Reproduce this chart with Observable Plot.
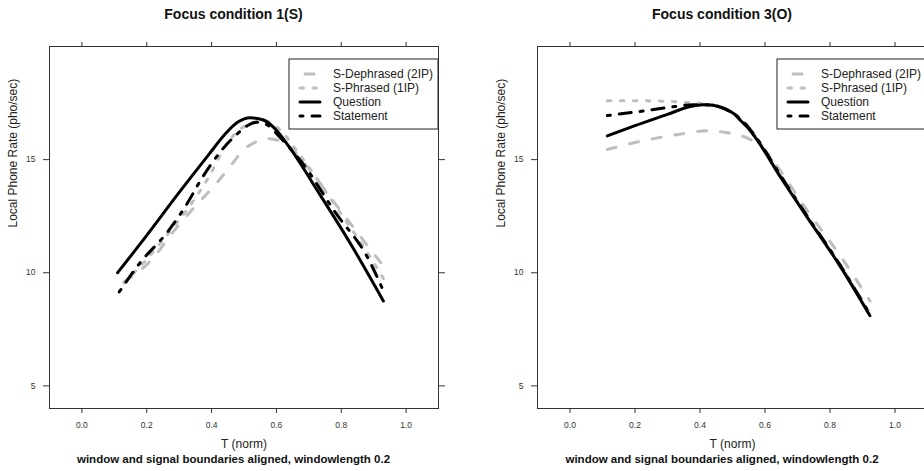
<!DOCTYPE html>
<html>
<head>
<meta charset="utf-8">
<script src="https://cdn.jsdelivr.net/npm/d3@7"></script>
<script src="https://cdn.jsdelivr.net/npm/@observablehq/plot@0.6"></script>
<style>
  html, body { margin: 0; padding: 0; background: #fff; overflow: hidden; }
  #wrap { position: relative; width: 924px; height: 471px; overflow: hidden; background: #fff; }
  .panel { position: absolute; top: 0; }
  .panel svg { max-width: none !important; }
</style>
</head>
<body>
<div id="wrap"></div>
<script>
// ---------- tick labels / text ----------
const tickX = [0, 0.2, 0.4, 0.6, 0.8, 1.0];
const tickY = [5, 10, 15];
const seriesNames = ["S-Dephrased (2IP)", "S-Phrased (1IP)", "Question", "Statement"];
const panelTitles = ["Focus condition 1(S)", "Focus condition 3(O)"];
const xLabel = "T (norm)";
const yLabel = "Local Phone Rate (pho/sec)";
const caption = "window and signal boundaries aligned, windowlength 0.2";

// ---------- Focus condition 1(S) ----------
const c1DephrasedT    = [0.13, 0.21, 0.284, 0.35, 0.412, 0.46, 0.5, 0.54, 0.576, 0.628, 0.7, 0.771, 0.843, 0.93];
const c1DephrasedRate = [9.6, 10.5, 11.85, 12.95, 13.9, 14.75, 15.45, 15.8, 15.92, 15.7, 14.6, 13.25, 11.9, 10.3];
const c1PhrasedT      = [0.13, 0.2, 0.27, 0.33, 0.39, 0.443, 0.48, 0.52, 0.56, 0.6, 0.68, 0.78, 0.88, 0.93];
const c1PhrasedRate   = [9.55, 10.6, 11.8, 12.9, 14.2, 15.6, 16.25, 16.6, 16.72, 16.45, 15.05, 13.0, 10.9, 9.75];
const c1QuestionT     = [0.11, 0.2, 0.3, 0.39, 0.44, 0.48, 0.52, 0.56, 0.6, 0.64, 0.73, 0.83, 0.93];
const c1QuestionRate  = [10.0, 11.65, 13.55, 15.2, 16.1, 16.65, 16.85, 16.75, 16.3, 15.55, 13.55, 11.25, 8.75];
const c1StatementT    = [0.115, 0.18, 0.264, 0.32, 0.371, 0.433, 0.484, 0.51, 0.54, 0.57, 0.61, 0.68, 0.78, 0.884, 0.93];
const c1StatementRate = [9.15, 10.45, 11.8, 12.95, 14.2, 15.45, 16.2, 16.5, 16.65, 16.55, 16.0, 14.85, 12.7, 10.6, 9.2];

// ---------- Focus condition 3(O) ----------
const c3DephrasedT    = [0.115, 0.23, 0.35, 0.42, 0.48, 0.546, 0.577, 0.62, 0.65, 0.73, 0.833, 0.923];
const c3DephrasedRate = [15.45, 15.85, 16.15, 16.28, 16.2, 15.95, 15.7, 15.05, 14.45, 12.75, 10.72, 8.75];
const c3PhrasedT      = [0.115, 0.2, 0.3, 0.38, 0.43, 0.47, 0.505, 0.546, 0.577, 0.648, 0.73, 0.833, 0.923];
const c3PhrasedRate   = [17.6, 17.6, 17.58, 17.5, 17.45, 17.3, 17.05, 16.5, 15.9, 14.3, 12.5, 10.32, 8.2];
const c3QuestionT     = [0.115, 0.2, 0.3, 0.37, 0.41, 0.44, 0.475, 0.505, 0.525, 0.546, 0.577, 0.648, 0.73, 0.833, 0.923];
const c3QuestionRate  = [16.05, 16.5, 17.0, 17.35, 17.43, 17.4, 17.25, 17.02, 16.73, 16.43, 15.84, 14.22, 12.45, 10.25, 8.1];
const c3StatementT    = [0.115, 0.2, 0.3, 0.38, 0.42, 0.45, 0.48, 0.505, 0.525, 0.546, 0.577, 0.648, 0.73, 0.833, 0.923];
const c3StatementRate = [16.95, 17.1, 17.3, 17.43, 17.43, 17.38, 17.22, 17.02, 16.78, 16.48, 15.9, 14.3, 12.5, 10.3, 8.15];

// ---------- styles ----------
const seriesStyles = [
  {stroke: "#bebebe", dash: "9,14"},        // dashed
  {stroke: "#bebebe", dash: "3.5,9.5"},     // dotted
  {stroke: "#000000", dash: null},          // solid
  {stroke: "#000000", dash: "3,9,12,9"}     // dot-dash
];
const FONT = "'Liberation Sans', Arial, Helvetica, sans-serif";

function toRows(ts, vs) { return ts.map((t, i) => ({t, rate: vs[i]})); }

const panels = [
  {title: panelTitles[0], left: 0, width: 462, marginLeft: 49, marginRight: 24,
   series: [toRows(c1DephrasedT, c1DephrasedRate), toRows(c1PhrasedT, c1PhrasedRate),
            toRows(c1QuestionT, c1QuestionRate), toRows(c1StatementT, c1StatementRate)]},
  {title: panelTitles[1], left: 462, width: 470, marginLeft: 75, marginRight: 5,
   series: [toRows(c3DephrasedT, c3DephrasedRate), toRows(c3PhrasedT, c3PhrasedRate),
            toRows(c3QuestionT, c3QuestionRate), toRows(c3StatementT, c3StatementRate)]}
];

const H = 471, MT = 46, MB = 63;

function addLegend(svg, frameLeft, frameRight) {
  const g = d3.select(svg).append("g").attr("text-anchor", "start");
  const x0 = frameLeft + 240, x1 = frameRight, y0 = 59, y1 = 129;
  g.append("rect").attr("x", x0).attr("y", y0).attr("width", x1 - x0).attr("height", y1 - y0)
    .attr("fill", "#fff").attr("stroke", "#222").attr("stroke-width", 1);
  const offsets = [-5, 0, 0, 0];
  seriesNames.forEach((name, i) => {
    const y = 74 + i * 14;
    const st = seriesStyles[i];
    const ln = g.append("line").attr("x1", x0 + 11).attr("x2", x0 + 31).attr("y1", y).attr("y2", y)
      .attr("stroke", st.stroke).attr("stroke-width", 3).attr("stroke-linecap", "round");
    if (st.dash) ln.attr("stroke-dasharray", st.dash).attr("stroke-dashoffset", offsets[i]);
    g.append("text").attr("x", x0 + 44).attr("y", y).attr("dy", "0.35em")
      .attr("text-anchor", "start")
      .attr("font-family", FONT).attr("font-size", 12).attr("fill", "#222").text(name);
  });
}

const wrap = document.getElementById("wrap");
panels.forEach(p => {
  const lineMarks = p.series.map((rows, i) => Plot.line(rows, {
    x: "t", y: "rate", stroke: seriesStyles[i].stroke, strokeWidth: 3,
    strokeDasharray: seriesStyles[i].dash || undefined,
    strokeLinecap: "round", strokeLinejoin: "round", curve: "monotone-x"
  }));
  const svg = Plot.plot({
    width: p.width, height: H,
    marginLeft: p.marginLeft, marginRight: p.marginRight, marginTop: MT, marginBottom: MB,
    style: {fontFamily: FONT, fontSize: "8px", color: "#333", background: "white", overflow: "visible", maxWidth: "none"},
    x: {domain: [-0.1, 1.1]},
    y: {domain: [4, 20]},
    marks: [
      Plot.frame({stroke: "#333", strokeWidth: 1}),
      Plot.axisX(tickX, {anchor: "bottom", tickSize: 5, tickPadding: 8, tickFormat: d3.format(".1f"), label: null, fontSize: 8.5, fill: "#333"}),
      Plot.axisX(tickX, {anchor: "top", tickSize: 5, tickFormat: () => "", label: null}),
      Plot.axisY(tickY, {anchor: "left", tickSize: 6, tickPadding: 8, tickFormat: d3.format("d"), label: null, fontSize: 8.5, fill: "#333"}),
      Plot.axisY(tickY, {anchor: "right", tickSize: 6, tickFormat: () => "", label: null}),
      ...lineMarks,
      Plot.text([p.title], {frameAnchor: "top", dx: -10.5, dy: -32, lineAnchor: "middle", fontSize: 14, fontWeight: "bold", fill: "#111"}),
      Plot.text([xLabel], {frameAnchor: "bottom", dy: 36, lineAnchor: "middle", fontSize: 12, fill: "#222"}),
      Plot.text([caption], {frameAnchor: "bottom", dx: -10.5, dy: 51, lineAnchor: "middle", fontSize: 11.5, fontWeight: "bold", fill: "#111"}),
      Plot.text([yLabel], {frameAnchor: "left", dx: -36, rotate: -90, lineAnchor: "middle", fontSize: 12, fill: "#222"})
    ]
  });
  svg.style.maxWidth = "none";
  addLegend(svg, p.marginLeft, p.width - p.marginRight);
  const holder = document.createElement("div");
  holder.className = "panel";
  holder.style.left = p.left + "px";
  holder.style.width = p.width + "px";
  holder.style.height = H + "px";
  holder.appendChild(svg);
  wrap.appendChild(holder);
});
</script>
</body>
</html>
